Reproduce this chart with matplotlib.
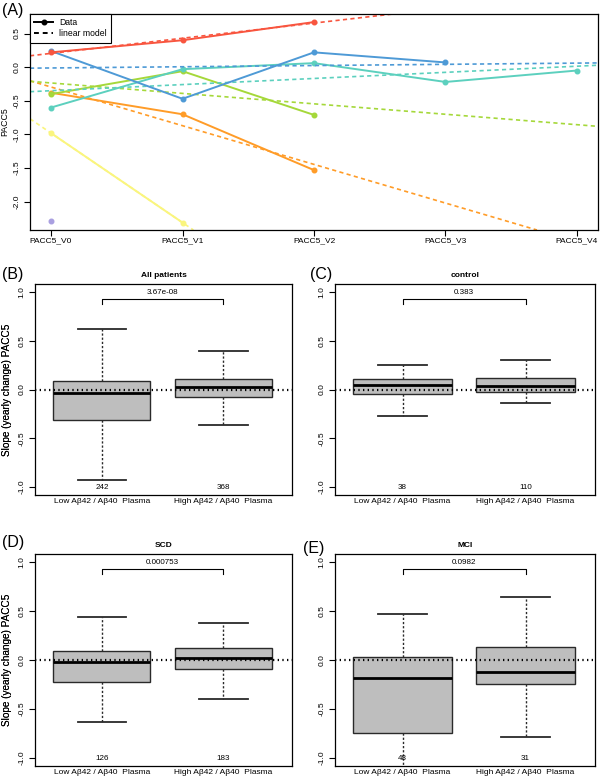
import numpy as np
import matplotlib.pyplot as plt
from matplotlib.lines import Line2D

plt.rcParams['font.family'] = ['Liberation Sans', 'DejaVu Sans']
plt.rcParams['axes.unicode_minus'] = False

# ---- panel A: PACC5 per visit for a few example patients ----
visits = ['PACC5_V0', 'PACC5_V1', 'PACC5_V2', 'PACC5_V3', 'PACC5_V4']
pacc_yellow = [-0.98, -2.31]
pacc_purple = [-2.28]
pacc_orange = [-0.38, -0.70, -1.53]
pacc_green = [-0.40, -0.06, -0.71]
pacc_teal = [-0.60, -0.03, 0.06, -0.22, -0.05]
pacc_blue = [0.24, -0.47, 0.22, 0.07]
pacc_red = [0.22, 0.40, 0.67]

# ---- panels B-E: yearly slope summary (whislo, q1, median, q3, whishi) ----
groups = ['Low A\u03b242 / A\u03b240  Plasma', 'High A\u03b242 / A\u03b240  Plasma']
all_low = [-0.93, -0.31, -0.04, 0.085, 0.62]
all_high = [-0.36, -0.08, 0.03, 0.11, 0.39]
ctrl_low = [-0.27, -0.045, 0.05, 0.11, 0.25]
ctrl_high = [-0.14, -0.03, 0.04, 0.115, 0.30]
scd_low = [-0.63, -0.225, -0.025, 0.095, 0.44]
scd_high = [-0.40, -0.095, 0.02, 0.12, 0.38]
mci_low = [-1.30, -0.74, -0.18, 0.035, 0.47]
mci_high = [-0.78, -0.24, -0.12, 0.13, 0.64]

titles = ['All patients', 'control', 'SCD', 'MCI']
pvals = ['3.67e-08', '0.383', '0.000753', '0.0982']
counts = [(242, 368), (38, 110), (126, 183), (48, 31)]

W, H = 602, 781
fig = plt.figure(figsize=(W / 100, H / 100), dpi=100)


def px_axes(l, t, r, b):
    return fig.add_axes([l / W, 1 - b / H, (r - l) / W, (b - t) / H])


def style_axes(ax):
    for s in ax.spines.values():
        s.set_linewidth(0.9)
        s.set_color('black')
    ax.tick_params(direction='out', length=4, width=0.8, labelsize=6, color='black')
    ax.tick_params(axis='y', labelrotation=90)
    plt.setp(ax.get_yticklabels(), va='center')


# ----- Panel A -----
axA = px_axes(30, 14, 598, 230)
series = [
    (pacc_yellow, '#FAF57E'),
    (pacc_purple, '#A99FE0'),
    (pacc_orange, '#FF9C28'),
    (pacc_green, '#A5D83A'),
    (pacc_teal, '#5CD0BE'),
    (pacc_blue, '#4E9AD6'),
    (pacc_red, '#F8553F'),
]
for vals, col in series:
    x = np.arange(1, len(vals) + 1)
    axA.plot(x, vals, color=col, lw=1.4, marker='o', ms=3.3)
    if len(vals) > 1:
        slope, icpt = np.polyfit(x, vals, 1)
        axA.axline((0, icpt), slope=slope, color=col, lw=1.2, ls=(0, (2.5, 2)))

axA.set_xlim(0.84, 5.16)
axA.set_ylim(-2.42, 0.79)
axA.set_xticks(range(1, 6))
axA.set_xticklabels(visits)
axA.set_yticks([-2.0, -1.5, -1.0, -0.5, 0.0, 0.5])
axA.set_yticklabels(['%.1f' % v for v in [-2.0, -1.5, -1.0, -0.5, 0.0, 0.5]])
style_axes(axA)
axA.tick_params(axis='x', pad=1.5)
axA.tick_params(axis='y', pad=2.5)
axA.set_ylabel('PACC5', fontsize=6.3)
axA.yaxis.set_label_coords(-0.036, 0.5)

handles = [Line2D([], [], color='black', lw=1.4, marker='o', ms=3.3),
           Line2D([], [], color='black', lw=1.4, ls=(0, (2.5, 2)))]
leg = axA.legend(handles, ['Data', 'linear model'], loc='upper left',
                 bbox_to_anchor=(0, 1), borderaxespad=0, fontsize=6.2,
                 fancybox=False, edgecolor='black', framealpha=1,
                 handlelength=2.2, borderpad=0.5, labelspacing=0.25,
                 handletextpad=0.7)
leg.get_frame().set_linewidth(0.8)
fig.text(2 / W, 1 - 10.5 / H, '(A)', fontsize=11.5, va='center', ha='left')

# ----- Panels B-E -----
boxes = [(all_low, all_high), (ctrl_low, ctrl_high), (scd_low, scd_high), (mci_low, mci_high)]
frames = [(35, 284, 292, 495), (335, 284, 595, 495),
          (35, 554, 292, 766), (335, 554, 595, 766)]
letters = ['(B)', '(C)', '(D)', '(E)']
letter_pos = [(2, 275), (310, 275), (2, 542), (303, 549)]

for i in range(4):
    l, t, r, b = frames[i]
    ax = px_axes(l, t, r, b)
    stats = []
    for s in boxes[i]:
        stats.append(dict(whislo=s[0], q1=s[1], med=s[2], q3=s[3], whishi=s[4], fliers=[]))
    ax.bxp(stats, positions=[1, 2], widths=0.8, capwidths=0.4, patch_artist=True,
           showfliers=False,
           boxprops=dict(facecolor='#BEBEBE', edgecolor='#2a2a2a', linewidth=1),
           medianprops=dict(color='black', linewidth=2.0),
           whiskerprops=dict(color='#2a2a2a', linestyle=(0, (1.6, 1.4)), linewidth=1),
           capprops=dict(color='#2a2a2a', linewidth=1.3))
    ax.axhline(0, color='black', lw=1.6, ls=(0, (0.6, 1.5)), zorder=5)

    ax.plot([1, 1, 2, 2], [0.88, 0.93, 0.93, 0.88], color='black', lw=0.8)
    ax.text(1.5, 0.995, pvals[i], ha='center', va='center', fontsize=5.8)
    for pos, n in zip([1, 2], counts[i]):
        ax.text(pos, -1.0, str(n), ha='center', va='center', fontsize=5.8)

    ax.set_xlim(0.45, 2.565)
    ax.set_ylim(-1.08, 1.08)
    ax.set_xticks([1, 2])
    ax.set_xticklabels(groups)
    ax.set_yticks([-1.0, -0.5, 0.0, 0.5, 1.0])
    ax.set_yticklabels(['%.1f' % v for v in [-1.0, -0.5, 0.0, 0.5, 1.0]])
    style_axes(ax)
    ax.tick_params(axis='x', length=0, pad=2)
    ax.tick_params(axis='y', pad=3)
    ax.set_title(titles[i], fontsize=6, fontweight='bold', pad=5)
    ax.set_ylabel('Slope (yearly change) PACC5', fontsize=7.2)
    ax.yaxis.set_label_coords((12 - l) / (r - l), 0.5)

    lx, ly = letter_pos[i]
    fig.text(lx / W, 1 - ly / H, letters[i], fontsize=11.5, va='center', ha='left')

fig.savefig('out.png', dpi=100)
